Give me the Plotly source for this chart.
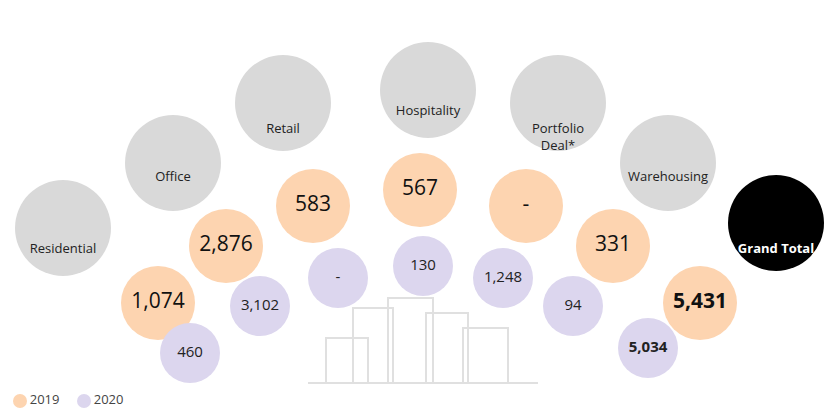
import plotly.graph_objects as go

categories = ["Residential", "Office", "Retail", "Hospitality", "Portfolio<br>Deal*", "Warehousing", "<b>Grand Total</b>"]
values_2019 = ["1,074", "2,876", "583", "567", "-", "331", "<b>5,431</b>"]
values_2020 = ["460", "3,102", "-", "130", "1,248", "94", "<b>5,034</b>"]

# layout positions (pixel space)
cat_x = [55, 165, 275, 420, 550, 660, 768]
cat_y = [220, 155, 95, 82, 95, 155, 215]
label_dy = [22, 15, 27, 22, 35, 15, 27]
y19_x = [150, 218, 305, 412, 518, 605, 692]
y19_y = [295, 238, 198, 182, 198, 238, 295]
y20_x = [182, 252, 330, 415, 495, 565, 640]
y20_y = [345, 298, 270, 258, 270, 298, 340]

FONT = "Open Sans"
fig = go.Figure()

cat_colors = ["#d9d9d9"] * 6 + ["#000000"]
cat_font = ["#222"] * 6 + ["#ffffff"]
fig.add_trace(go.Scatter(
    x=cat_x, y=cat_y, mode="markers",
    marker=dict(size=96, color=cat_colors, line=dict(width=0)), hoverinfo="skip"))
fig.add_trace(go.Scatter(
    x=cat_x, y=[y + d for y, d in zip(cat_y, label_dy)], mode="text", text=categories,
    textfont=dict(family=FONT, size=13, color=cat_font), hoverinfo="skip"))

fig.add_trace(go.Scatter(
    x=y19_x, y=y19_y, mode="markers+text", text=values_2019,
    marker=dict(size=74, color="#fdd4b0"), textfont=dict(family=FONT, size=21, color="#111"),
    hoverinfo="skip"))
fig.add_trace(go.Scatter(
    x=y20_x, y=y20_y, mode="markers+text", text=values_2020,
    marker=dict(size=60, color="#dcd6ee"), textfont=dict(family=FONT, size=15, color="#222"),
    hoverinfo="skip"))

# legend
fig.add_trace(go.Scatter(x=[12, 76], y=[393, 393], mode="markers+text", text=["2019", "2020"],
                         textposition="middle right",
                         marker=dict(size=14, color=["#fdd4b0", "#dcd6ee"]),
                         textfont=dict(family=FONT, size=13, color="#444"), hoverinfo="skip"))

# building illustration (decoration)
shapes = []
for x0, y0, x1 in [(318, 330, 360), (345, 300, 385), (380, 290, 425), (418, 305, 460), (455, 320, 500)]:
    shapes.append(dict(type="rect", x0=x0, y0=y0, x1=x1, y1=375, layer="below",
                       line=dict(color="#e0e0e0", width=2)))
shapes.append(dict(type="line", x0=300, y0=375, x1=530, y1=375, layer="below",
                   line=dict(color="#e0e0e0", width=2)))
fig.update_layout(
    shapes=shapes, showlegend=False, width=833, height=417,
    margin=dict(l=0, r=0, t=0, b=0), plot_bgcolor="white", paper_bgcolor="white",
    xaxis=dict(range=[0, 833], visible=False, fixedrange=True),
    yaxis=dict(range=[417, 0], visible=False, fixedrange=True))
fig.write_html("out.html")
